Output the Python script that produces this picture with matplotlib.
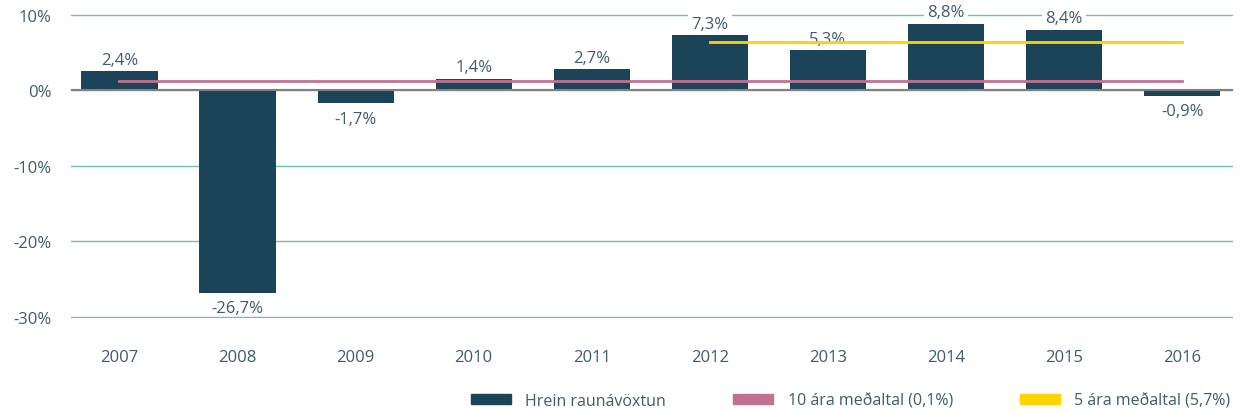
import matplotlib
matplotlib.use("Agg")
import matplotlib.pyplot as plt
from matplotlib.patches import Patch

years = ["2007", "2008", "2009", "2010", "2011", "2012", "2013", "2014", "2015", "2016"]
returns = [2.5, -26.8, -1.7, 1.5, 2.8, 7.3, 5.3, 8.8, 8.0, -0.7]
labels = ["2,4%", "-26,7%", "-1,7%", "1,4%", "2,7%", "7,3%", "5,3%", "8,8%", "8,4%", "-0,9%"]
avg10 = 1.2
avg5 = 6.4
avg5_start = 5  # 2012

bar_col = "#1b4459"
pink = "#c07090"
yellow = "#ffd200"
grid_col = "#6cbfb2"
txt_col = "#3d5b6d"

plt.rcParams["font.family"] = ["Open Sans", "DejaVu Sans"]

fig = plt.figure(figsize=(12.41, 4.14), dpi=100)
ax = fig.add_axes([71 / 1241, 1 - 319 / 414, (1233 - 71) / 1241, (319 - 15) / 414])

x = list(range(len(years)))
ax.bar(x, returns, width=0.645, color=bar_col, zorder=2)

# average lines
ax.plot([x[0], x[-1]], [avg10, avg10], color=pink, lw=2, zorder=5)
ax.plot([x[avg5_start], x[-1]], [avg5, avg5], color=yellow, lw=2, zorder=5)

for xi, v, lab in zip(x, returns, labels):
    if v >= 0:
        ax.annotate(lab, (xi, v), xytext=(0, 2.5), textcoords="offset points",
                    ha="center", va="bottom", fontsize=12, color=txt_col, zorder=4,
                    bbox=dict(boxstyle="square,pad=0.2", fc="white", ec="none"))
    else:
        ax.annotate(lab, (xi, v), xytext=(0, -5.5), textcoords="offset points",
                    ha="center", va="top", fontsize=12, color=txt_col, zorder=4)

ax.set_ylim(-30.15, 10.1)
ax.set_xlim(-0.41, 9.43)
ax.set_yticks([-30, -20, -10, 0, 10])
ax.set_yticklabels(["-30%", "-20%", "-10%", "0%", "10%"])
ax.set_xticks(x)
ax.set_xticklabels(years)
ax.tick_params(axis="both", length=0, labelsize=12, labelcolor=txt_col)
ax.tick_params(axis="x", pad=22)
ax.tick_params(axis="y", pad=14)
for s in ax.spines.values():
    s.set_visible(False)
ax.yaxis.grid(True, color=grid_col, lw=1, zorder=0)
ax.set_axisbelow(True)
ax.axhline(0, color="#808080", lw=1.5, zorder=3)

handles = [Patch(color=bar_col), Patch(color=pink), Patch(color=yellow)]
names = ["Hrein raunávöxtun", "10 ára meðaltal (0,1%)", "5 ára meðaltal (5,7%)"]
leg = fig.legend(handles, names, loc="lower right", bbox_to_anchor=(1.003, -0.025),
                 ncol=3, frameon=False, fontsize=11.5, handlelength=2.5,
                 handleheight=0.6, columnspacing=4.2, handletextpad=0.9)
for t in leg.get_texts():
    t.set_color(txt_col)

fig.savefig("out.png", dpi=100)
